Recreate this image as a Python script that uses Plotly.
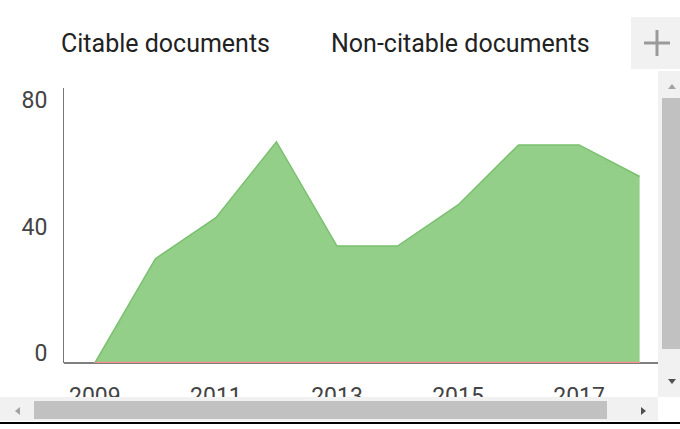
import plotly.graph_objects as go

years = [2009, 2010, 2011, 2012, 2013, 2014, 2015, 2016, 2017, 2018]
citable = [0, 33, 46, 70, 37, 37, 50, 69, 69, 59]
non_citable = [0, 0, 0, 0, 0, 0, 0, 0, 0, 0]
series_names = ["Citable documents", "Non-citable documents"]
x_ticks = [2009, 2011, 2013, 2015, 2017]
y_ticks = [0, 40, 80]

W, H = 680, 429
L, R, T, B = 64, 659, 88, 363


def px(x):
    return (x - L) / (R - L)


def py(y):
    return (B - y) / (B - T)


fig = go.Figure()
fig.add_trace(go.Scatter(
    x=years, y=citable, name=series_names[0], mode="lines",
    fill="tozeroy", fillcolor="rgb(147,207,137)",
    line=dict(color="rgb(122,192,110)", width=1.5),
))
fig.add_trace(go.Scatter(
    x=years, y=non_citable, name=series_names[1], mode="lines",
    line=dict(color="rgb(242,145,135)", width=2.5), cliponaxis=False,
))

shapes = []

# baseline (x axis line), drawn below the traces
shapes.append(dict(type="line", xref="paper", yref="paper", x0=0, x1=1, y0=0, y1=0,
                   line=dict(color="#000000", width=1), layer="below"))


def rect(x0, y0, x1, y1, color):
    shapes.append(dict(type="rect", xref="paper", yref="paper",
                       x0=px(x0), x1=px(x1), y0=py(y1), y1=py(y0),
                       fillcolor=color, line=dict(width=0), layer="above"))


def tri(pts, color):
    d = "M " + " L ".join(f"{px(a)},{py(b)}" for a, b in pts) + " Z"
    shapes.append(dict(type="path", xref="paper", yref="paper", path=d,
                       fillcolor=color, line=dict(width=0), layer="above"))


# plus button
rect(631, 17, 680, 69, "#f1f1f1")
shapes.append(dict(type="line", xref="paper", yref="paper", x0=px(644), x1=px(670),
                   y0=py(43), y1=py(43), line=dict(color="#9a9a9a", width=3), layer="above"))
shapes.append(dict(type="line", xref="paper", yref="paper", x0=px(657), x1=px(657),
                   y0=py(30), y1=py(56), line=dict(color="#9a9a9a", width=3), layer="above"))
# vertical scrollbar
rect(658, 71, 680, 397, "#f1f1f1")
rect(662, 98, 680, 349, "#c1c1c1")
tri([(668, 89), (676, 89), (672, 84)], "#a3a3a3")
tri([(668, 379), (676, 379), (672, 384)], "#505050")
# horizontal scrollbar
rect(0, 397, 658, 421, "#f1f1f1")
rect(34, 401, 607, 419, "#c1c1c1")
tri([(20, 407), (20, 415), (15, 411)], "#a3a3a3")
tri([(641, 407), (641, 415), (646, 411)], "#505050")
# bottom border
rect(0, 422, 680, 424, "#000000")

annotations = [
    dict(text=series_names[0], xref="paper", yref="paper", x=px(59), y=py(43),
         xanchor="left", yanchor="middle", showarrow=False,
         font=dict(family="Roboto", size=25, color="#222222")),
    dict(text=series_names[1], xref="paper", yref="paper", x=px(329), y=py(43),
         xanchor="left", yanchor="middle", showarrow=False,
         font=dict(family="Roboto", size=25, color="#222222")),
]

fig.update_layout(
    width=W, height=H,
    margin=dict(l=L, r=W - R, t=T, b=H - B, pad=0),
    paper_bgcolor="white", plot_bgcolor="white",
    showlegend=False,
    shapes=shapes, annotations=annotations,
    font=dict(family="Roboto", size=23, color="#444444"),
    xaxis=dict(range=[2008.49, 2018.32], tickvals=x_ticks, ticktext=[str(v) for v in x_ticks],
               showgrid=False, zeroline=False, showline=False,
               ticks="", ticklabelstandoff=17, fixedrange=True),
    yaxis=dict(range=[0, 87], tickvals=y_ticks, showgrid=False, zeroline=False,
               showline=True, linecolor="#777777", linewidth=1, ticks="",
               ticklabelstandoff=11, ticklabelshift=-10, fixedrange=True, layer="below traces"),
)

fig.write_html("out.html", config={"displayModeBar": False},
               post_script="document.body.style.margin='0';document.body.style.overflow='hidden';")
